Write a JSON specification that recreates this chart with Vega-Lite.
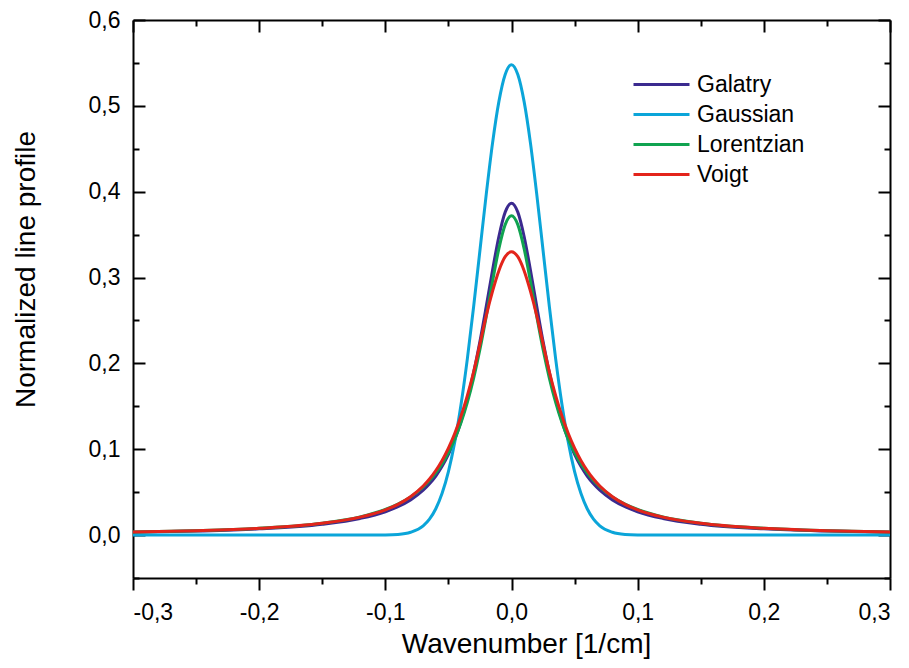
{
  "$schema": "https://vega.github.io/schema/vega-lite/v6.json",
  "width": 757,
  "height": 558,
  "autosize": {"type": "none"},
  "padding": {"left": 133, "top": 20, "right": 19, "bottom": 90},
  "background": "white",
  "config": {
    "view": {"stroke": null},
    "axis": {
      "grid": false,
      "labelFont": "Liberation Sans",
      "labelFontSize": 22,
      "labelColor": "black",
      "titleFont": "Liberation Sans",
      "titleFontSize": 28,
      "titleFontWeight": "normal",
      "titleColor": "black",
      "domainColor": "black",
      "domainWidth": 2,
      "tickColor": "black",
      "tickWidth": 2
    }
  },
  "data": {
    "values": [
      {"s": "Galatry", "x": -0.3, "y": 0.00325}, {"s": "Galatry", "x": -0.25, "y": 0.00467}, {"s": "Galatry", "x": -0.2, "y": 0.00723}, {"s": "Galatry", "x": -0.15, "y": 0.01265}, {"s": "Galatry", "x": -0.12, "y": 0.0194}, {"s": "Galatry", "x": -0.1, "y": 0.0272}, {"s": "Galatry", "x": -0.09, "y": 0.0331}, {"s": "Galatry", "x": -0.08, "y": 0.041}, {"s": "Galatry", "x": -0.07, "y": 0.0522}, {"s": "Galatry", "x": -0.065, "y": 0.0597}, {"s": "Galatry", "x": -0.06, "y": 0.0688}, {"s": "Galatry", "x": -0.055, "y": 0.0801}, {"s": "Galatry", "x": -0.05, "y": 0.094}, {"s": "Galatry", "x": -0.045, "y": 0.1112}, {"s": "Galatry", "x": -0.04, "y": 0.1326}, {"s": "Galatry", "x": -0.035, "y": 0.1584}, {"s": "Galatry", "x": -0.03, "y": 0.1895}, {"s": "Galatry", "x": -0.025, "y": 0.2258}, {"s": "Galatry", "x": -0.02, "y": 0.2665}, {"s": "Galatry", "x": -0.015, "y": 0.3088}, {"s": "Galatry", "x": -0.01, "y": 0.3478}, {"s": "Galatry", "x": -0.005, "y": 0.3762}, {"s": "Galatry", "x": 0, "y": 0.3866}, {"s": "Galatry", "x": 0.005, "y": 0.3762}, {"s": "Galatry", "x": 0.01, "y": 0.3478}, {"s": "Galatry", "x": 0.015, "y": 0.3088}, {"s": "Galatry", "x": 0.02, "y": 0.2665}, {"s": "Galatry", "x": 0.025, "y": 0.2258}, {"s": "Galatry", "x": 0.03, "y": 0.1895}, {"s": "Galatry", "x": 0.035, "y": 0.1584}, {"s": "Galatry", "x": 0.04, "y": 0.1326}, {"s": "Galatry", "x": 0.045, "y": 0.1112}, {"s": "Galatry", "x": 0.05, "y": 0.094}, {"s": "Galatry", "x": 0.055, "y": 0.0801}, {"s": "Galatry", "x": 0.06, "y": 0.0688}, {"s": "Galatry", "x": 0.065, "y": 0.0597}, {"s": "Galatry", "x": 0.07, "y": 0.0522}, {"s": "Galatry", "x": 0.08, "y": 0.041}, {"s": "Galatry", "x": 0.09, "y": 0.0331}, {"s": "Galatry", "x": 0.1, "y": 0.0272}, {"s": "Galatry", "x": 0.12, "y": 0.0194}, {"s": "Galatry", "x": 0.15, "y": 0.01265}, {"s": "Galatry", "x": 0.2, "y": 0.00723}, {"s": "Galatry", "x": 0.25, "y": 0.00467}, {"s": "Galatry", "x": 0.3, "y": 0.00325},
      {"s": "Gaussian", "x": -0.3, "y": 0}, {"s": "Gaussian", "x": -0.25, "y": 0}, {"s": "Gaussian", "x": -0.2, "y": 0}, {"s": "Gaussian", "x": -0.15, "y": 0}, {"s": "Gaussian", "x": -0.12, "y": 0}, {"s": "Gaussian", "x": -0.1, "y": 0.0002}, {"s": "Gaussian", "x": -0.09, "y": 0.0008}, {"s": "Gaussian", "x": -0.08, "y": 0.0033}, {"s": "Gaussian", "x": -0.07, "y": 0.0108}, {"s": "Gaussian", "x": -0.065, "y": 0.0186}, {"s": "Gaussian", "x": -0.06, "y": 0.0307}, {"s": "Gaussian", "x": -0.055, "y": 0.0486}, {"s": "Gaussian", "x": -0.05, "y": 0.074}, {"s": "Gaussian", "x": -0.045, "y": 0.1083}, {"s": "Gaussian", "x": -0.04, "y": 0.1521}, {"s": "Gaussian", "x": -0.035, "y": 0.2053}, {"s": "Gaussian", "x": -0.03, "y": 0.2663}, {"s": "Gaussian", "x": -0.025, "y": 0.3318}, {"s": "Gaussian", "x": -0.02, "y": 0.3972}, {"s": "Gaussian", "x": -0.015, "y": 0.4569}, {"s": "Gaussian", "x": -0.01, "y": 0.5049}, {"s": "Gaussian", "x": -0.005, "y": 0.5365}, {"s": "Gaussian", "x": 0, "y": 0.548}, {"s": "Gaussian", "x": 0.005, "y": 0.5365}, {"s": "Gaussian", "x": 0.01, "y": 0.5049}, {"s": "Gaussian", "x": 0.015, "y": 0.4569}, {"s": "Gaussian", "x": 0.02, "y": 0.3972}, {"s": "Gaussian", "x": 0.025, "y": 0.3318}, {"s": "Gaussian", "x": 0.03, "y": 0.2663}, {"s": "Gaussian", "x": 0.035, "y": 0.2053}, {"s": "Gaussian", "x": 0.04, "y": 0.1521}, {"s": "Gaussian", "x": 0.045, "y": 0.1083}, {"s": "Gaussian", "x": 0.05, "y": 0.074}, {"s": "Gaussian", "x": 0.055, "y": 0.0486}, {"s": "Gaussian", "x": 0.06, "y": 0.0307}, {"s": "Gaussian", "x": 0.065, "y": 0.0186}, {"s": "Gaussian", "x": 0.07, "y": 0.0108}, {"s": "Gaussian", "x": 0.08, "y": 0.0033}, {"s": "Gaussian", "x": 0.09, "y": 0.0008}, {"s": "Gaussian", "x": 0.1, "y": 0.0002}, {"s": "Gaussian", "x": 0.12, "y": 0}, {"s": "Gaussian", "x": 0.15, "y": 0}, {"s": "Gaussian", "x": 0.2, "y": 0}, {"s": "Gaussian", "x": 0.25, "y": 0}, {"s": "Gaussian", "x": 0.3, "y": 0},
      {"s": "Lorentzian", "x": -0.3, "y": 0.00356}, {"s": "Lorentzian", "x": -0.25, "y": 0.00511}, {"s": "Lorentzian", "x": -0.2, "y": 0.00792}, {"s": "Lorentzian", "x": -0.15, "y": 0.01385}, {"s": "Lorentzian", "x": -0.12, "y": 0.0212}, {"s": "Lorentzian", "x": -0.1, "y": 0.0298}, {"s": "Lorentzian", "x": -0.09, "y": 0.0361}, {"s": "Lorentzian", "x": -0.08, "y": 0.0445}, {"s": "Lorentzian", "x": -0.07, "y": 0.0561}, {"s": "Lorentzian", "x": -0.065, "y": 0.0635}, {"s": "Lorentzian", "x": -0.06, "y": 0.0724}, {"s": "Lorentzian", "x": -0.055, "y": 0.0831}, {"s": "Lorentzian", "x": -0.05, "y": 0.0961}, {"s": "Lorentzian", "x": -0.045, "y": 0.1118}, {"s": "Lorentzian", "x": -0.04, "y": 0.131}, {"s": "Lorentzian", "x": -0.035, "y": 0.1545}, {"s": "Lorentzian", "x": -0.03, "y": 0.1829}, {"s": "Lorentzian", "x": -0.025, "y": 0.2165}, {"s": "Lorentzian", "x": -0.02, "y": 0.2549}, {"s": "Lorentzian", "x": -0.015, "y": 0.2956}, {"s": "Lorentzian", "x": -0.01, "y": 0.3337}, {"s": "Lorentzian", "x": -0.005, "y": 0.3616}, {"s": "Lorentzian", "x": 0, "y": 0.372}, {"s": "Lorentzian", "x": 0.005, "y": 0.3616}, {"s": "Lorentzian", "x": 0.01, "y": 0.3337}, {"s": "Lorentzian", "x": 0.015, "y": 0.2956}, {"s": "Lorentzian", "x": 0.02, "y": 0.2549}, {"s": "Lorentzian", "x": 0.025, "y": 0.2165}, {"s": "Lorentzian", "x": 0.03, "y": 0.1829}, {"s": "Lorentzian", "x": 0.035, "y": 0.1545}, {"s": "Lorentzian", "x": 0.04, "y": 0.131}, {"s": "Lorentzian", "x": 0.045, "y": 0.1118}, {"s": "Lorentzian", "x": 0.05, "y": 0.0961}, {"s": "Lorentzian", "x": 0.055, "y": 0.0831}, {"s": "Lorentzian", "x": 0.06, "y": 0.0724}, {"s": "Lorentzian", "x": 0.065, "y": 0.0635}, {"s": "Lorentzian", "x": 0.07, "y": 0.0561}, {"s": "Lorentzian", "x": 0.08, "y": 0.0445}, {"s": "Lorentzian", "x": 0.09, "y": 0.0361}, {"s": "Lorentzian", "x": 0.1, "y": 0.0298}, {"s": "Lorentzian", "x": 0.12, "y": 0.0212}, {"s": "Lorentzian", "x": 0.15, "y": 0.01385}, {"s": "Lorentzian", "x": 0.2, "y": 0.00792}, {"s": "Lorentzian", "x": 0.25, "y": 0.00511}, {"s": "Lorentzian", "x": 0.3, "y": 0.00356},
      {"s": "Voigt", "x": -0.3, "y": 0.00355}, {"s": "Voigt", "x": -0.25, "y": 0.00509}, {"s": "Voigt", "x": -0.2, "y": 0.00787}, {"s": "Voigt", "x": -0.15, "y": 0.0137}, {"s": "Voigt", "x": -0.12, "y": 0.0209}, {"s": "Voigt", "x": -0.1, "y": 0.0294}, {"s": "Voigt", "x": -0.09, "y": 0.0358}, {"s": "Voigt", "x": -0.08, "y": 0.0446}, {"s": "Voigt", "x": -0.07, "y": 0.0571}, {"s": "Voigt", "x": -0.065, "y": 0.0653}, {"s": "Voigt", "x": -0.06, "y": 0.0752}, {"s": "Voigt", "x": -0.055, "y": 0.087}, {"s": "Voigt", "x": -0.05, "y": 0.1013}, {"s": "Voigt", "x": -0.045, "y": 0.1183}, {"s": "Voigt", "x": -0.04, "y": 0.1386}, {"s": "Voigt", "x": -0.035, "y": 0.1624}, {"s": "Voigt", "x": -0.03, "y": 0.1901}, {"s": "Voigt", "x": -0.025, "y": 0.2228}, {"s": "Voigt", "x": -0.02, "y": 0.2557}, {"s": "Voigt", "x": -0.015, "y": 0.2841}, {"s": "Voigt", "x": -0.01, "y": 0.308}, {"s": "Voigt", "x": -0.005, "y": 0.3243}, {"s": "Voigt", "x": 0, "y": 0.3301}, {"s": "Voigt", "x": 0.005, "y": 0.3243}, {"s": "Voigt", "x": 0.01, "y": 0.308}, {"s": "Voigt", "x": 0.015, "y": 0.2841}, {"s": "Voigt", "x": 0.02, "y": 0.2557}, {"s": "Voigt", "x": 0.025, "y": 0.2228}, {"s": "Voigt", "x": 0.03, "y": 0.1901}, {"s": "Voigt", "x": 0.035, "y": 0.1624}, {"s": "Voigt", "x": 0.04, "y": 0.1386}, {"s": "Voigt", "x": 0.045, "y": 0.1183}, {"s": "Voigt", "x": 0.05, "y": 0.1013}, {"s": "Voigt", "x": 0.055, "y": 0.087}, {"s": "Voigt", "x": 0.06, "y": 0.0752}, {"s": "Voigt", "x": 0.065, "y": 0.0653}, {"s": "Voigt", "x": 0.07, "y": 0.0571}, {"s": "Voigt", "x": 0.08, "y": 0.0446}, {"s": "Voigt", "x": 0.09, "y": 0.0358}, {"s": "Voigt", "x": 0.1, "y": 0.0294}, {"s": "Voigt", "x": 0.12, "y": 0.0209}, {"s": "Voigt", "x": 0.15, "y": 0.0137}, {"s": "Voigt", "x": 0.2, "y": 0.00787}, {"s": "Voigt", "x": 0.25, "y": 0.00509}, {"s": "Voigt", "x": 0.3, "y": 0.00355}
    ]
  },
  "resolve": {"axis": {"x": "independent", "y": "independent"}},
  "layer": [
    {
      "mark": {"type": "line", "strokeWidth": 3, "interpolate": "monotone", "clip": true},
      "encoding": {
        "x": {
          "field": "x", "type": "quantitative",
          "scale": {"domain": [-0.3, 0.3], "nice": false, "zero": false},
          "axis": {
            "orient": "bottom",
            "values": [-0.3, -0.2, -0.1, 0, 0.1, 0.2, 0.3],
            "labelExpr": "(datum.value < 0 ? '-' : '') + replace(format(abs(datum.value), '.1f'), '.', ',')",
            "labelFontSize": 23,
            "tickSize": 12, "labelPadding": 11,
            "title": "Wavenumber [1/cm]", "titlePadding": 6, "titleX": 393
          }
        },
        "y": {
          "field": "y", "type": "quantitative",
          "scale": {"domain": [-0.05, 0.6], "nice": false, "zero": false},
          "axis": {
            "orient": "left",
            "values": [0, 0.1, 0.2, 0.3, 0.4, 0.5, 0.6],
            "labelExpr": "replace(format(datum.value, '.1f'), '.', ',')",
            "labelFontSize": 23,
            "tickSize": -12, "labelPadding": 25,
            "title": "Normalized line profile", "titlePadding": 48, "titleY": 249
          }
        },
        "color": {
          "field": "s", "type": "nominal",
          "scale": {"domain": ["Galatry", "Gaussian", "Lorentzian", "Voigt"], "range": ["#3b2a8f", "#0ba5d9", "#10a350", "#e3241b"]},
          "legend": {
            "orient": "none", "legendX": 513, "legendY": 49, "title": null,
            "symbolType": "M-2,0H2", "symbolSize": 784, "symbolStrokeWidth": 3,
            "labelFont": "Liberation Sans", "labelFontSize": 23, "labelColor": "black",
            "labelOffset": 20, "rowPadding": 2.0, "padding": 0
          }
        }
      }
    },
    {
      "mark": {"type": "point", "opacity": 0},
      "encoding": {
        "x": {"field": "x", "type": "quantitative", "axis": {"orient": "bottom", "values": [-0.25, -0.15, -0.05, 0.05, 0.15, 0.25], "labels": false, "domain": false, "tickSize": 6, "title": null}},
        "y": {"field": "y", "type": "quantitative", "axis": {"orient": "left", "values": [-0.05, 0.05, 0.15, 0.25, 0.35, 0.45, 0.55], "labels": false, "domain": false, "tickSize": -6, "title": null}}
      }
    },
    {
      "mark": {"type": "point", "opacity": 0},
      "encoding": {
        "x": {"field": "x", "type": "quantitative", "axis": {"orient": "top", "values": [-0.3, -0.2, -0.1, 0, 0.1, 0.2, 0.3], "labels": false, "tickSize": -12, "title": null}},
        "y": {"field": "y", "type": "quantitative", "axis": {"orient": "right", "values": [0, 0.1, 0.2, 0.3, 0.4, 0.5, 0.6], "labels": false, "tickSize": -12, "title": null}}
      }
    },
    {
      "mark": {"type": "point", "opacity": 0},
      "encoding": {
        "x": {"field": "x", "type": "quantitative", "axis": {"orient": "top", "values": [-0.25, -0.15, -0.05, 0.05, 0.15, 0.25], "labels": false, "domain": false, "tickSize": -6, "title": null}},
        "y": {"field": "y", "type": "quantitative", "axis": {"orient": "right", "values": [-0.05, 0.05, 0.15, 0.25, 0.35, 0.45, 0.55], "labels": false, "domain": false, "tickSize": -6, "title": null}}
      }
    }
  ]
}
